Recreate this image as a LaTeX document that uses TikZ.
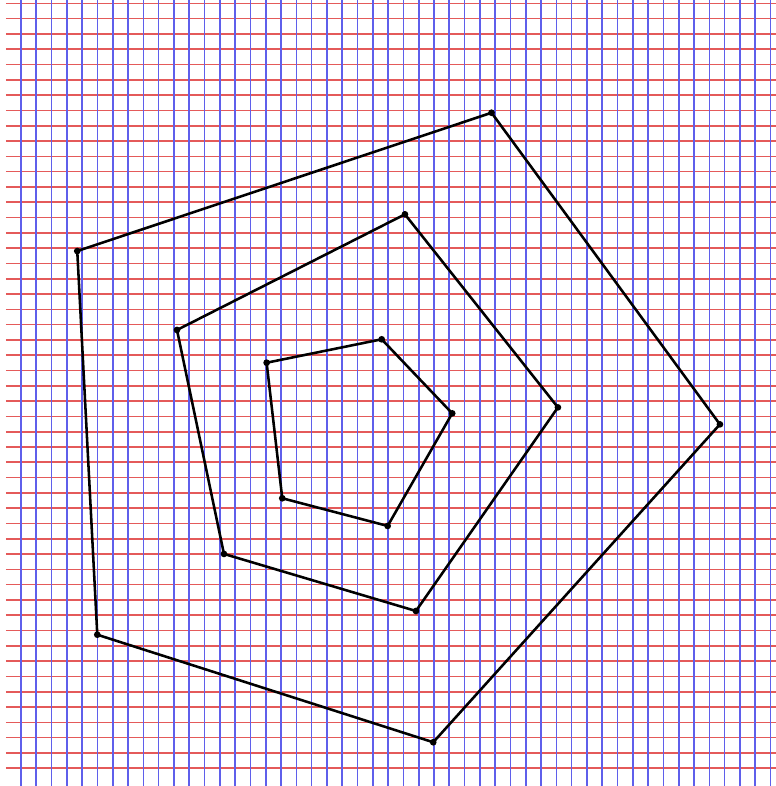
\documentclass[tikz,border=0pt]{standalone}
\usepackage{tikz}
\usepackage{xcolor}

\definecolor{gridred}{RGB}{228,90,90}
\definecolor{gridblue}{RGB}{95,95,235}

\tikzset{
    redline/.style={gridred, line width=1.2pt},
    blueline/.style={gridblue, line width=1.2pt},
    edge/.style={black, line width=1.9pt, line join=round},
    vertex/.style={black, fill=black}
}

\begin{document}
\begin{tikzpicture}[x=0.4cm, y=0.4cm]
    \useasboundingbox (-1.37, -1.16) rectangle (49.35, 50.22);

    % Grelha
    \foreach \y in {0,...,50}
        \draw[redline] (-0.98, \y) -- (49.35, \y);
    \foreach \x in {0,...,49}
        \draw[blueline] (\x, -1.16) -- (\x, 50.22);

    % Pentagono exterior
    \coordinate (o1) at (30.76, 42.85);
    \coordinate (o2) at (45.69, 22.48);
    \coordinate (o3) at (26.95, 1.70);
    \coordinate (o4) at (4.99, 8.73);
    \coordinate (o5) at (3.68, 33.81);

    % Pentagono do meio
    \coordinate (m1) at (25.10, 36.21);
    \coordinate (m2) at (35.10, 23.59);
    \coordinate (m3) at (25.82, 10.28);
    \coordinate (m4) at (13.27, 14.01);
    \coordinate (m5) at (10.20, 28.65);

    % Pentagono interior
    \coordinate (i1) at (23.58, 28.04);
    \coordinate (i2) at (28.19, 23.20);
    \coordinate (i3) at (23.97, 15.84);
    \coordinate (i4) at (17.08, 17.65);
    \coordinate (i5) at (16.06, 26.51);

    % Lados
    \foreach \p in {o, m, i}
        \draw[edge] (\p1) -- (\p2) -- (\p3) -- (\p4) -- (\p5) -- cycle;

    % Vertices
    \foreach \p in {o, m, i}
        \foreach \k in {1,...,5}
            \fill[vertex] (\p\k) circle (2.5pt);
\end{tikzpicture}
\end{document}
